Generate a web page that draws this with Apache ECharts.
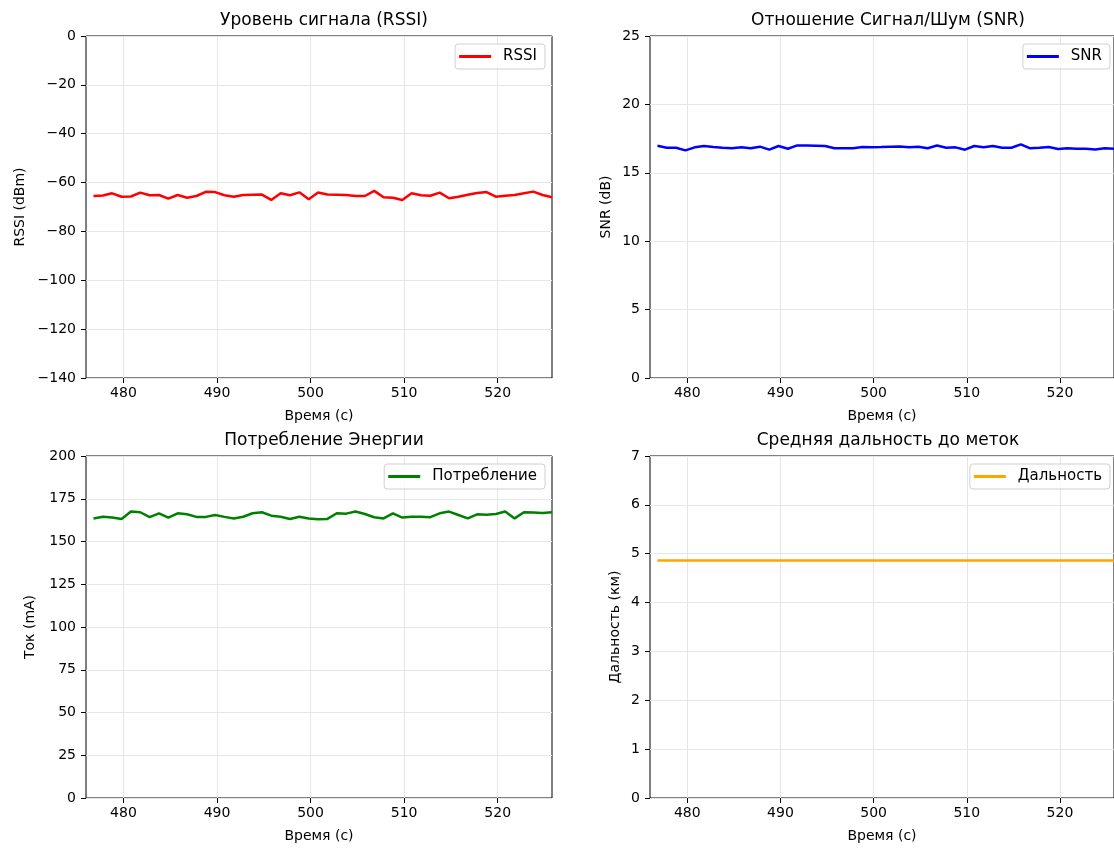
<!DOCTYPE html>
<html>
<head>
<meta charset="utf-8">
<script src="https://cdn.jsdelivr.net/npm/echarts@6/dist/echarts.min.js"></script>
<style>
  html, body { margin: 0; padding: 0; background: #fff; overflow: hidden; }
  #main { width: 1114px; height: 848px; }
</style>
</head>
<body>
<div id="main"></div>
<script>
// time stamps (s)
var times = [476.8, 477.8, 478.8, 479.8, 480.8, 481.8, 482.8, 483.8, 484.8, 485.8,
    486.8, 487.8, 488.8, 489.8, 490.8, 491.8, 492.8, 493.8, 494.8, 495.8,
    496.8, 497.8, 498.8, 499.8, 500.8, 501.8, 502.8, 503.8, 504.8, 505.8,
    506.8, 507.8, 508.8, 509.8, 510.8, 511.8, 512.8, 513.8, 514.8, 515.8,
    516.8, 517.8, 518.8, 519.8, 520.8, 521.8, 522.8, 523.8, 524.8, 525.8];

var rssi = [-65.5, -65.3, -64.4, -65.8, -65.7, -64.1, -65.2, -65.1, -66.6, -65.1,
    -66.2, -65.5, -63.8, -63.9, -65.2, -65.8, -65.1, -65.0, -64.9, -67.1,
    -64.4, -65.2, -64.0, -66.8, -64.1, -64.9, -65.0, -65.1, -65.5, -65.5,
    -63.4, -66.0, -66.2, -67.1, -64.4, -65.2, -65.4, -64.1, -66.4, -65.8,
    -65.0, -64.3, -63.9, -65.8, -65.4, -65.1, -64.4, -63.7, -65.1, -66.0];

var snr = [16.98, 16.83, 16.83, 16.64, 16.86, 16.96, 16.88, 16.83, 16.80, 16.86,
    16.80, 16.91, 16.69, 16.96, 16.76, 17.00, 17.00, 16.98, 16.96, 16.79,
    16.79, 16.79, 16.88, 16.86, 16.88, 16.91, 16.93, 16.86, 16.91, 16.79,
    17.00, 16.83, 16.86, 16.69, 16.96, 16.86, 16.96, 16.83, 16.83, 17.08,
    16.79, 16.83, 16.88, 16.74, 16.79, 16.76, 16.76, 16.71, 16.79, 16.76];

var current = [163.5, 164.5, 164.0, 163.2, 167.5, 167.1, 164.2, 166.5, 164.0, 166.5,
    165.9, 164.4, 164.4, 165.5, 164.4, 163.5, 164.5, 166.5, 167.1, 165.1,
    164.5, 163.2, 164.5, 163.5, 163.0, 163.2, 166.5, 166.3, 167.5, 166.1,
    164.2, 163.5, 166.5, 164.0, 164.5, 164.5, 164.2, 166.5, 167.5, 165.5,
    163.5, 165.9, 165.7, 166.1, 167.5, 163.5, 167.1, 166.9, 166.7, 167.1];

var range = [4.86, 4.86, 4.86, 4.86, 4.86, 4.86, 4.86, 4.86, 4.86, 4.86,
    4.86, 4.86, 4.86, 4.86, 4.86, 4.86, 4.86, 4.86, 4.86, 4.86,
    4.86, 4.86, 4.86, 4.86, 4.86, 4.86, 4.86, 4.86, 4.86, 4.86,
    4.86, 4.86, 4.86, 4.86, 4.86, 4.86, 4.86, 4.86, 4.86, 4.86,
    4.86, 4.86, 4.86, 4.86, 4.86, 4.86, 4.86, 4.86, 4.86, 4.86];

var xTicks = [480, 490, 500, 510, 520];

var FONT = 'DejaVu Sans';

function pairs(ys) {
    var out = [];
    for (var i = 0; i < times.length; i++) out.push([times[i], ys[i]]);
    return out;
}

// panel boxes
var boxes = [
    { left: 86, top: 36, width: 466, height: 342 },
    { left: 650, top: 36, width: 466, height: 342 },
    { left: 86, top: 456, width: 466, height: 342 },
    { left: 650, top: 456, width: 466, height: 342 }
];

var panels = [
    { title: 'Уровень сигнала (RSSI)', name: 'RSSI', yName: 'RSSI (dBm)', data: rssi,
      color: '#ff0000', min: -140, max: 0, step: 20, nameGap: 59, legendRight: 569 },
    { title: 'Отношение Сигнал/Шум (SNR)', name: 'SNR', yName: 'SNR (dB)', data: snr,
      color: '#0000ff', min: 0, max: 25, step: 5, nameGap: 37, legendRight: 4 },
    { title: 'Потребление Энергии', name: 'Потребление', yName: 'Ток (mA)', data: current,
      color: '#008000', min: 0, max: 200, step: 25, nameGap: 49, legendRight: 569 },
    { title: 'Средняя дальность до меток', name: 'Дальность', yName: 'Дальность (км)', data: range,
      color: '#ffa500', min: 0, max: 7, step: 1, nameGap: 28, legendRight: 4 }
];

var option = {
    animation: false,
    backgroundColor: '#fff',
    textStyle: { fontFamily: FONT },
    title: [], grid: [], xAxis: [], yAxis: [], legend: [], series: []
};

panels.forEach(function (p, i) {
    var b = boxes[i];
    option.title.push({
        text: p.title,
        left: b.left + b.width / 2,
        top: b.top - 29,
        textAlign: 'center',
        textStyle: { fontFamily: FONT, fontSize: 17, fontWeight: 'normal', color: '#000' }
    });
    option.grid.push({
        left: b.left, top: b.top, width: b.width, height: b.height,
        show: true, borderColor: '#000', borderWidth: 1, backgroundColor: 'transparent'
    });
    option.xAxis.push({
        type: 'value', gridIndex: i, min: 476.0, max: 525.8,
        name: 'Время (с)', nameLocation: 'middle', nameGap: 31,
        nameTextStyle: { fontFamily: FONT, fontSize: 14, color: '#000' },
        axisLine: { show: false, onZero: false },
        axisTick: { show: true, length: 5, customValues: xTicks, lineStyle: { color: '#000' } },
        axisLabel: { customValues: xTicks, fontFamily: FONT, fontSize: 14, color: '#000', margin: 8 },
        splitLine: { show: true, lineStyle: { color: '#e6e6e6', width: 1 } }
    });
    option.yAxis.push({
        type: 'value', gridIndex: i, min: p.min, max: p.max, interval: p.step,
        name: p.yName, nameLocation: 'middle', nameGap: p.nameGap, nameRotate: 90,
        nameTextStyle: { fontFamily: FONT, fontSize: 14, color: '#000' },
        axisLine: { show: false, onZero: false },
        axisTick: { show: true, length: 5, lineStyle: { color: '#000' } },
        axisLabel: {
            fontFamily: FONT, fontSize: 14, color: '#000', margin: 10,
            formatter: function (v) { return v < 0 ? '\u2212' + Math.abs(v) : String(v); }
        },
        splitLine: { show: true, lineStyle: { color: '#e6e6e6', width: 1 } }
    });
    option.legend.push({
        data: [p.name],
        right: p.legendRight, top: b.top + 8,
        orient: 'vertical',
        icon: 'rect', itemWidth: 32, itemHeight: 3,
        padding: [5, 8, 5, 4],
        borderColor: '#d0d0d0', borderWidth: 1, borderRadius: 3,
        backgroundColor: 'rgba(255,255,255,0.8)',
        textStyle: { fontFamily: FONT, fontSize: 15, color: '#000', padding: [0, 0, 0, 7] }
    });
    option.series.push({
        name: p.name, type: 'line', xAxisIndex: i, yAxisIndex: i,
        data: pairs(p.data), showSymbol: false, symbol: 'none',
        lineStyle: { color: p.color, width: 2.5 },
        itemStyle: { color: p.color },
        clip: true
    });
});

var chart = echarts.init(document.getElementById('main'));
chart.setOption(option);
</script>
</body>
</html>
